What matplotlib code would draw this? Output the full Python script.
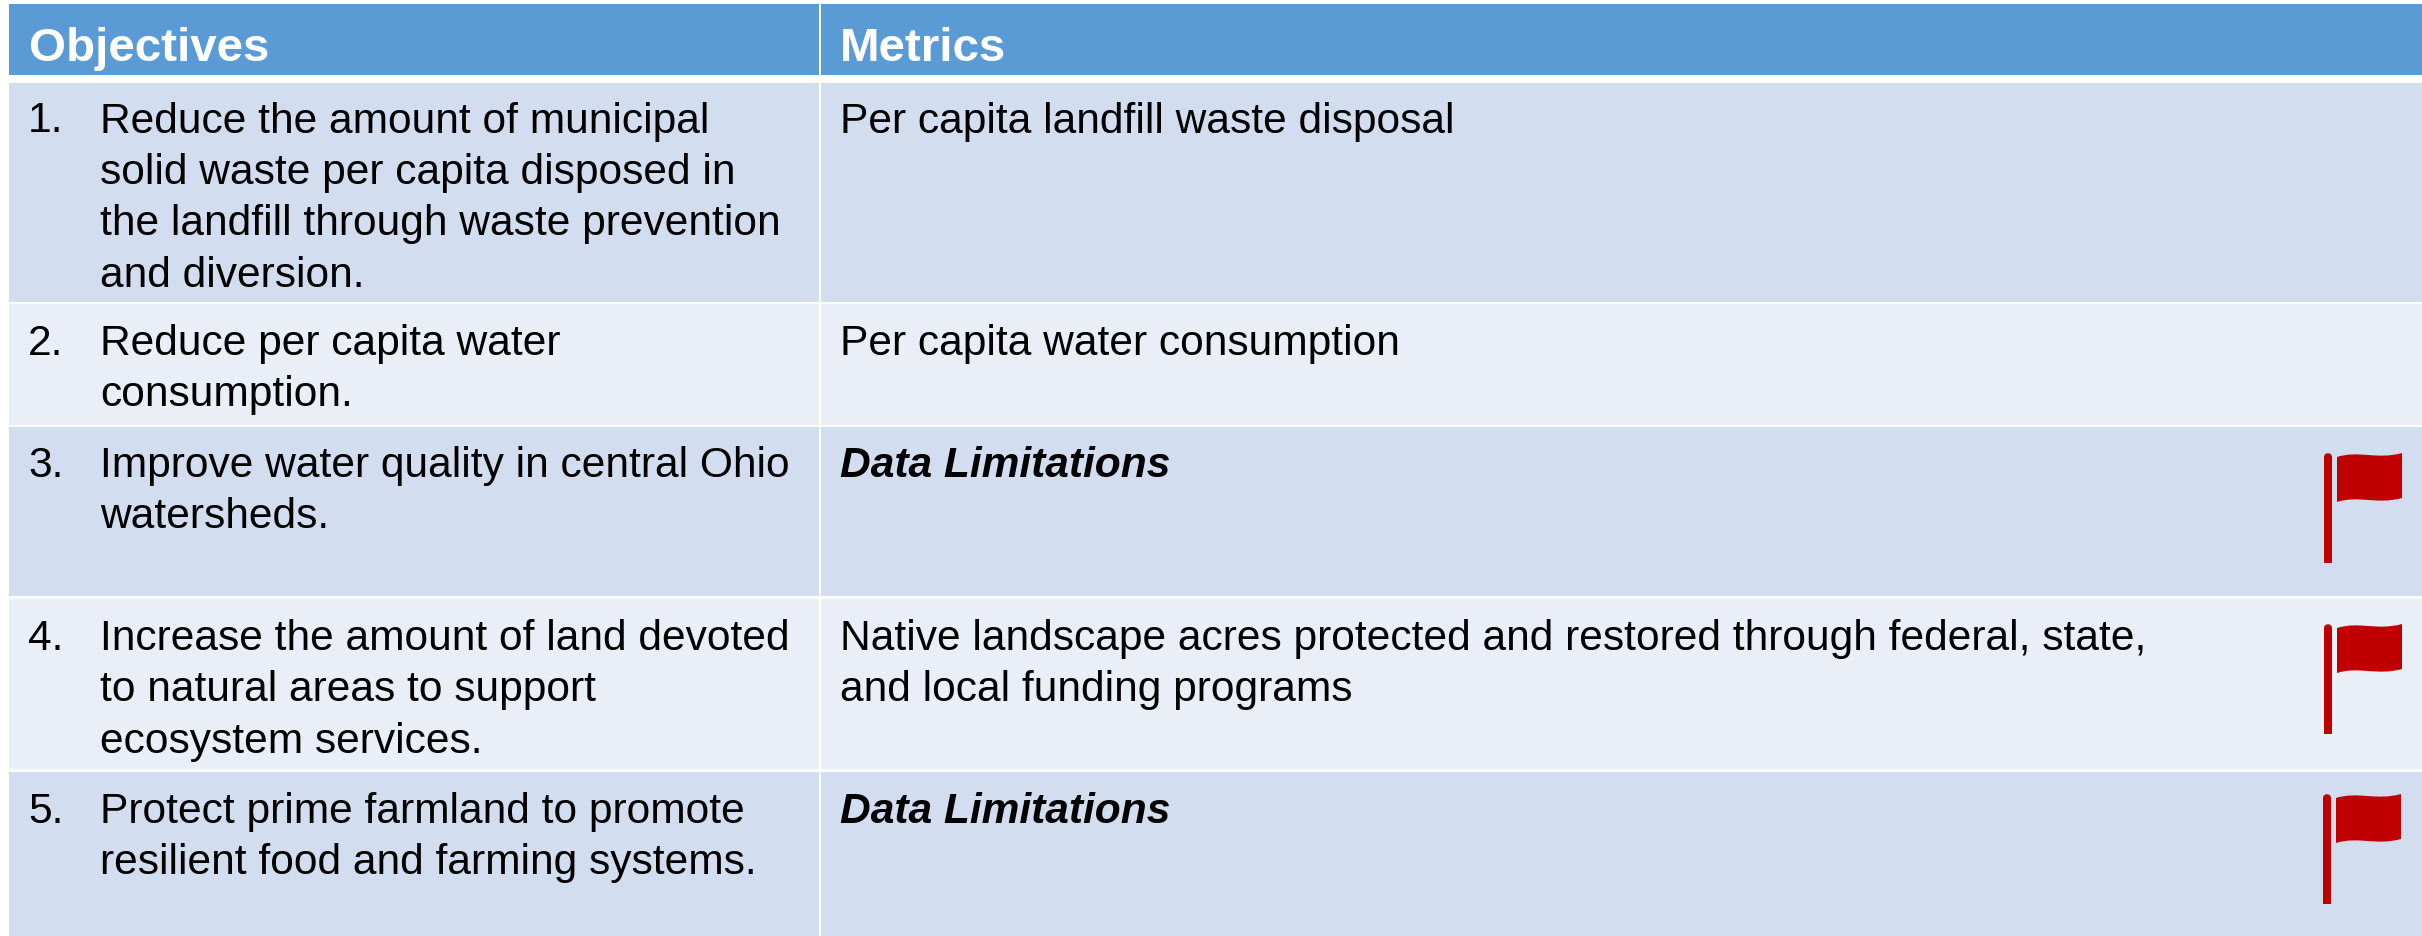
import matplotlib
matplotlib.use("Agg")
import matplotlib.pyplot as plt
from matplotlib.patches import Rectangle, PathPatch
from matplotlib.path import Path

plt.rcParams['font.family'] = ['Liberation Sans', 'DejaVu Sans']

headers = ["Objectives", "Metrics"]
numbers = ["1.", "2.", "3.", "4.", "5."]
objectives = [
    ["Reduce the amount of municipal", "solid waste per capita disposed in",
     "the landfill through waste prevention", "and diversion."],
    ["Reduce per capita water", "consumption."],
    ["Improve water quality in central Ohio", "watersheds."],
    ["Increase the amount of land devoted", "to natural areas to support", "ecosystem services."],
    ["Protect prime farmland to promote", "resilient food and farming systems."],
]
metrics = [
    ["Per capita landfill waste disposal"],
    ["Per capita water consumption"],
    ["Data Limitations"],
    ["Native landscape acres protected and restored through federal, state,",
     "and local funding programs"],
    ["Data Limitations"],
]
flagged = [False, False, True, True, True]

# layout, in reference pixels
W, H = 2422, 937
LEFT, SPLIT_L, SPLIT_R = 9, 819, 821
HEAD = (5, 76)
ROWS = [(84, 303), (305, 426), (428, 597), (600, 770), (773, 937)]
BASELINES = [132.5, 355, 477, 650, 823]
FLAG_TOPS = [None, None, 454, 625, 795]
FLAG_X = [None, None, 2324, 2324, 2323]
LINE = 51.5
FS = 30.6
FS_HEAD = 34.2
COL_ROW = ["#D2DEEF", "#EAEFF7"]
COL_HEAD = "#5B9BD5"
RED = "#C00000"

fig = plt.figure(figsize=(W / 100, H / 100), dpi=100, facecolor="white")
ax = fig.add_axes([0, 0, 1, 1])
ax.set_xlim(0, W)
ax.set_ylim(H, 0)
ax.axis("off")


def cells(top, bottom, color):
    for x0, x1 in ((LEFT, SPLIT_L), (SPLIT_R, W)):
        ax.add_patch(Rectangle((x0, top), x1 - x0, bottom - top, fc=color, ec="none"))


def flag(px, top):
    ax.add_patch(Rectangle((px, top + 4), 8, 106, fc=RED, ec="none"))
    ax.add_patch(PathPatch(Path(
        [(px, top + 4), (px, top - 1), (px + 8, top - 1), (px + 8, top + 4), (px, top + 4)],
        [Path.MOVETO, Path.CURVE4, Path.CURVE4, Path.CURVE4, Path.CLOSEPOLY]), fc=RED, ec="none"))
    fx0, fx1 = px + 13, px + 78
    h = 45
    verts = [(fx0, top + 4), (fx0 + 22, top - 3), (fx1 - 25, top + 7), (fx1, top),
             (fx1, top + h), (fx1 - 25, top + h + 7), (fx0 + 22, top + h - 3), (fx0, top + h + 4),
             (fx0, top + 4)]
    codes = [Path.MOVETO, Path.CURVE4, Path.CURVE4, Path.CURVE4,
             Path.LINETO, Path.CURVE4, Path.CURVE4, Path.CURVE4, Path.CLOSEPOLY]
    ax.add_patch(PathPatch(Path(verts, codes), fc=RED, ec="none"))


cells(*HEAD, COL_HEAD)
for label, x in zip(headers, (29, 840)):
    ax.text(x, 61, label, color="white", fontsize=FS_HEAD, fontweight="bold", va="baseline", ha="left")

for i, (top, bottom) in enumerate(ROWS):
    cells(top, bottom, COL_ROW[i % 2])
    base = BASELINES[i]
    ax.text(28, base, numbers[i], fontsize=FS, color="black", va="baseline")
    for j, line in enumerate(objectives[i]):
        ax.text(100, base + j * LINE, line, fontsize=FS, color="black", va="baseline")
    for j, line in enumerate(metrics[i]):
        limited = line == "Data Limitations"
        ax.text(840, base + j * LINE, line, fontsize=FS, color="black", va="baseline",
                fontweight="bold" if limited else "normal",
                fontstyle="italic" if limited else "normal")
    if flagged[i]:
        flag(FLAG_X[i], FLAG_TOPS[i])

fig.savefig("out.png", dpi=100, facecolor="white")
